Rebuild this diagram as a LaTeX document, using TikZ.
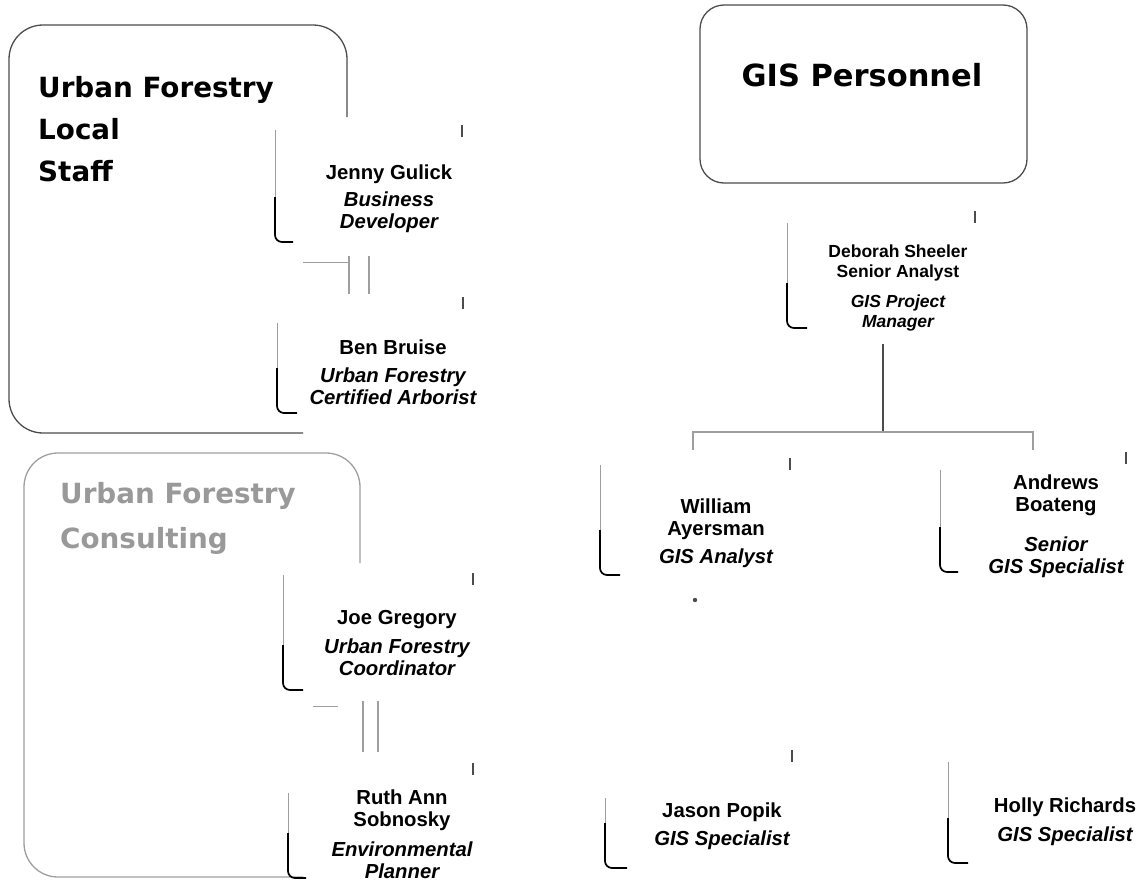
\documentclass[tikz,border=0pt]{standalone}
\usepackage{fontspec}
\setmainfont{Liberation Sans}
\newfontfamily\titlefont{DejaVu Sans}
\usetikzlibrary{calc}

\definecolor{frame}{gray}{0.3}
\definecolor{faint}{gray}{0.62}
\definecolor{paleink}{gray}{0.6}
\newcommand\role[1]{{\itshape #1}}

\begin{document}
\begin{tikzpicture}[x=1pt,y=-1pt,
    card/.style={align=center,inner sep=1pt,font=\fontsize{20.3}{22}\selectfont\bfseries},
    smallcard/.style={card,font=\fontsize{17.5}{20}\selectfont\bfseries},
    title/.style={align=left,inner sep=0pt,anchor=west,font=\titlefont\bfseries\fontsize{27.8}{42}\selectfont},
    group/.style={draw=frame,line width=1.3pt,rounded corners=34pt},
    link/.style={draw=frame,line width=2.2pt},
    thinlink/.style={draw=faint,line width=1.6pt},
    pair/.style={draw=faint,line width=2.6pt},
    tick/.style={draw=frame,line width=1.2pt}]
    \useasboundingbox (0,0) rectangle (1138,884);

    % group frames
    \draw[group] (347,117) -- (347,25) -- (9,25) -- (9,433) -- (303,433);
    \draw[group,draw=faint] (360,563) -- (360,453) -- (24,453) -- (24,877) -- (303,877);
    \draw[group,rounded corners=24pt] (700,5) rectangle (1027,183);

    \node[title] (local) at (38,129) {Urban Forestry\\Local\\Staff};
    \node[title,text=paleink,font=\titlefont\bfseries\fontsize{27.8}{45}\selectfont] (consult) at (60,518) {Urban Forestry\\Consulting};
    \node[title,anchor=center,font=\titlefont\bfseries\fontsize{30.5}{36}\selectfont] (gis) at (862,75) {GIS Personnel};

    % people
    \node[card] (jenny) at (389,199) {Jenny Gulick\\[5pt]\role{Business}\\\role{Developer}};
    \node[card] (ben) at (393,372) {Ben Bruise\\[6pt]\role{Urban Forestry}\\\role{Certified Arborist}};
    \node[card] (joe) at (397,643) {Joe Gregory\\[7pt]\role{Urban Forestry}\\\role{Coordinator}};
    \node[card] (ruth) at (402,834) {Ruth Ann\\Sobnosky\\[8pt]\role{Environmental}\\\role{Planner}};
    \node[smallcard] (deborah) at (898,288) {Deborah Sheeler\\Senior Analyst\\[10pt]\role{GIS Project}\\\role{Manager}};
    \node[card] (william) at (716,533) {William\\Ayersman\\[6pt]\role{GIS Analyst}};
    \node[card] (andrews) at (1056,526) {Andrews\\Boateng\\[18pt]\role{Senior}\\\role{GIS Specialist}};
    \node[card] (jason) at (722,826) {Jason Popik\\[6pt]\role{GIS Specialist}};
    \node[card] (holly) at (1065,822) {Holly Richards\\[7pt]\role{GIS Specialist}};

    % card corners
    \foreach \x/\t/\b/\w in {275/130/242/18, 277/323/413/20, 283/575/690/20, 288/793/878/18,
                             787/223/328/20, 600/465/575/20, 940/470/572/18, 605/798/868/22, 948/762/863/20} {
        \draw[faint,line width=0.9pt] (\x,\t) -- (\x,\b-30);
        \draw[line width=1.7pt,rounded corners=7pt] (\x,\b-45) |- (\x+\w,\b);
    }
    \foreach \x/\y in {462/125, 463/297, 473/573, 473/763, 975/211, 790/458, 1126/452, 792/750}
        \draw[tick] (\x,\y) -- ++(0,12);

    % links
    \coordinate (hub) at (883,432);
    \coordinate (wdrop) at (693,450);
    \coordinate (adrop) at (1033,450);
    \draw[link] (deborah.south -| hub) ++(0,12) -- (hub);
    \draw[thinlink] (wdrop) |- (hub) -| (adrop);
    \foreach \dx in {-40,-20}
        \draw[pair,shorten <=22pt,shorten >=44pt] ([xshift=\dx]jenny.south) -- ([xshift=\dx]jenny.south |- ben.north);
    \draw[faint,line width=0.8pt] ([xshift=-86]jenny.south |- 0,262) -- ([xshift=-40]jenny.south |- 0,262);
    \foreach \dx in {-34,-19}
        \draw[pair,shorten <=24pt,shorten >=36pt] ([xshift=\dx]joe.south) -- ([xshift=\dx]joe.south |- ruth.north);
    \draw[faint,line width=0.8pt] ([xshift=-84]joe.south |- 0,706) -- ([xshift=-59]joe.south |- 0,706);
    \fill[frame] (695,600) circle (2.2);
\end{tikzpicture}
\end{document}
